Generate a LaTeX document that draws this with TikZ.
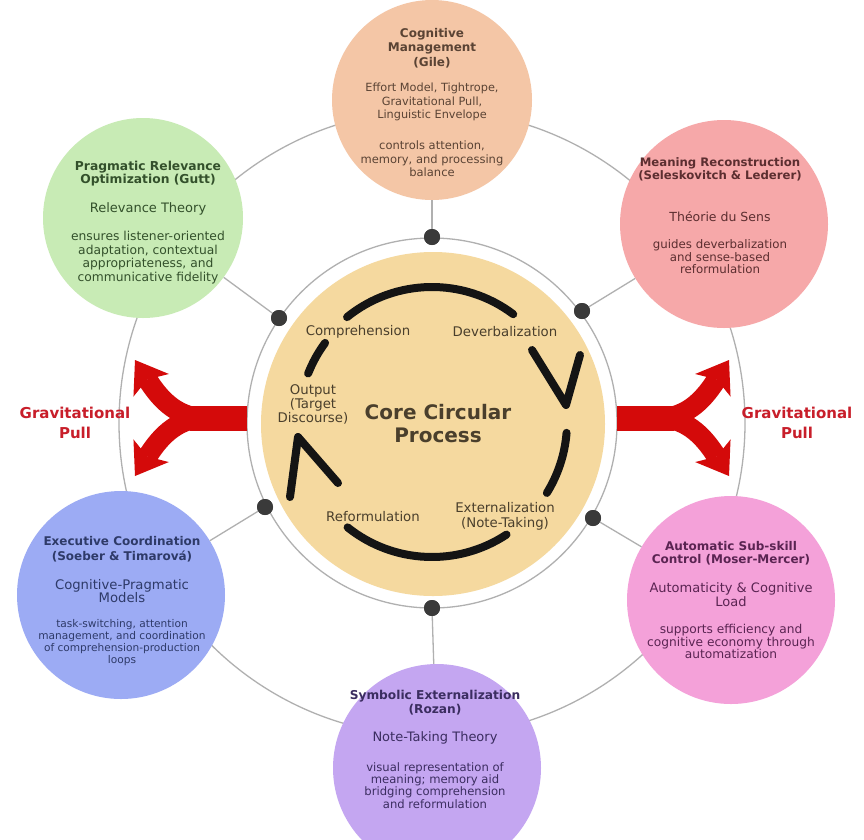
\documentclass[tikz,border=0pt]{standalone}
\usepackage{fontspec}
\setmainfont{DejaVu Sans}
\usetikzlibrary{arrows.meta,calc}
\definecolor{cPeach}{HTML}{F4C6A6}
\definecolor{cGreen}{HTML}{C8EBB5}
\definecolor{cSalmon}{HTML}{F6A8A9}
\definecolor{cBlue}{HTML}{9CABF4}
\definecolor{cPink}{HTML}{F4A1D9}
\definecolor{cPurple}{HTML}{C4A6F1}
\definecolor{cCore}{HTML}{F5D99F}
\definecolor{tPeach}{HTML}{5A4334}
\definecolor{tGreen}{HTML}{33502B}
\definecolor{tSalmon}{HTML}{5C2E30}
\definecolor{tBlue}{HTML}{2E3A68}
\definecolor{tPink}{HTML}{5A2452}
\definecolor{tPurple}{HTML}{3B2D60}
\definecolor{tCore}{HTML}{4A3F2C}
\definecolor{gline}{HTML}{B0B0B0}
\definecolor{dotc}{HTML}{3A3A3A}
\definecolor{pullred}{HTML}{D40A0A}
\definecolor{pulltxt}{HTML}{C81E2A}
\begin{document}
\begin{tikzpicture}[x=1pt,y=-1pt,
  bubble/.style={circle, minimum size=#1, inner sep=0pt, draw=none},
  ttl/.style n args={2}{align=center, inner sep=0pt, font=\fontsize{#1}{#2}\selectfont\bfseries},
  thy/.style n args={2}{align=center, inner sep=0pt, font=\fontsize{#1}{#2}\selectfont},
  dsc/.style n args={2}{align=center, inner sep=0pt, font=\fontsize{#1}{#2}\selectfont},
  ring/.style={draw=gline, line width=1.3pt},
  link/.style={draw=gline, line width=1.3pt},
  hub/.style={circle, fill=dotc, minimum size=16pt, inner sep=0pt},
  cyc/.style={draw=black!92, line width=8pt, line cap=round, line join=round},
  pullstem/.style={draw=pullred, line width=25pt},
  pullbranch/.style={draw=pullred, line width=20pt, -{Stealth[length=30pt,width=42pt,inset=7pt,line width=0pt]}},
  corelbl/.style={align=center, inner sep=0pt, text=tCore, font=\fontsize{13.3}{14.5}\selectfont},
  pulllbl/.style={align=center, inner sep=0pt, text=pulltxt, font=\fontsize{15}{20}\selectfont\bfseries}
]
\useasboundingbox (0,0) rectangle (864,839);
\fill[white] (0,0) rectangle (864,839);
\begin{scope}
\clip (0,0) rectangle (864,839);
\coordinate (cc) at (432,423);
% rings
\draw[ring] (cc) circle[radius=313];
\draw[ring] (cc) circle[radius=185];
% hubs (positions)
\node[hub] (hTop) at (432,237) {};
\node[hub] (hUL) at (279,318) {};
\node[hub] (hUR) at (582,311) {};
\node[hub] (hLL) at (265,507) {};
\node[hub] (hLR) at (593,518) {};
\node[hub] (hBot) at (432,608) {};
% bubbles
\node[bubble=200pt, fill=cPeach] (cog) at (432,100) {};
\node[bubble=200pt, fill=cGreen] (prag) at (143,218) {};
\node[bubble=208pt, fill=cSalmon] (mean) at (724,224) {};
\node[bubble=208pt, fill=cBlue] (exec) at (121,595) {};
\node[bubble=208pt, fill=cPink] (auto) at (731,600) {};
\node[bubble=208pt, fill=cPurple] (symb) at (437,768) {};
% connectors
\draw[link] (cog) -- (hTop);
\draw[link] (prag) -- (hUL);
\draw[link] (mean) -- (hUR);
\draw[link] (exec) -- (hLL);
\draw[link] (auto) -- (hLR);
\draw[link] (symb) -- (hBot);
% core
\node[bubble=344pt, fill=cCore] (core) at (433,424) {};
% gravitational pull arrows
\coordinate (lStemA) at (247,418);
\coordinate (lStemB) at (190,418);
\coordinate (lFork) at (205,418);
\coordinate (lUp) at (135,360);
\coordinate (lDn) at (135,476);
\draw[pullstem] (lStemA) -- (lStemB);
\draw[pullbranch] (lFork) .. controls (175,418) and (158,396) .. (lUp);
\draw[pullbranch] (lFork) .. controls (175,418) and (158,440) .. (lDn);
\coordinate (rStemA) at (617,418);
\coordinate (rStemB) at (674,418);
\coordinate (rFork) at (659,418);
\coordinate (rUp) at (729,360);
\coordinate (rDn) at (729,476);
\draw[pullstem] (rStemA) -- (rStemB);
\draw[pullbranch] (rFork) .. controls (689,418) and (706,396) .. (rUp);
\draw[pullbranch] (rFork) .. controls (689,418) and (706,440) .. (rDn);
% cycle
\coordinate (cyc) at (432,422);
\draw[cyc] ($(cyc)+(-129:135)$) arc[start angle=-129, end angle=-53, radius=135];
\draw[cyc] ($(cyc)+(-143.5:133)$) arc[start angle=-143.5, end angle=-158.6, radius=133];
\draw[cyc] ($(cyc)+(4.6:135)$) arc[start angle=4.6, end angle=31.7, radius=135];
\draw[cyc] ($(cyc)+(56.5:135)$) arc[start angle=56.5, end angle=128.7, radius=135];
\coordinate (rTip) at (566,405);
\coordinate (rBarbA) at (580,355);
\coordinate (rBarbB) at (532,350);
\draw[cyc] (rBarbA) -- (rTip) -- (rBarbB);
\coordinate (lTip) at (298,437);
\coordinate (lBarbA) at (290,497);
\coordinate (lBarbB) at (338,483);
\draw[cyc] (lBarbA) -- (lTip) -- (lBarbB);
% hubs drawn on top
\node[hub] at (hTop) {};
\node[hub] at (hUL) {};
\node[hub] at (hUR) {};
\node[hub] at (hLL) {};
\node[hub] at (hLR) {};
\node[hub] at (hBot) {};
% texts: top
\node[ttl={12}{14.5}, text=tPeach] (cogT) at (432,48) {Cognitive\\Management\\(Gile)};
\node[thy={11.3}{13.5}, text=tPeach] (cogH) at (432,102) {Effort Model, Tightrope,\\Gravitational Pull,\\Linguistic Envelope};
\node[dsc={11.5}{13.5}, text=tPeach] (cogD) at (432,159) {controls attention,\\memory, and processing\\balance};
% green
\node[ttl={12.3}{13.8}, text=tGreen] (pragT) at (148,173.5) {Pragmatic Relevance\\Optimization (Gutt)};
\node[thy={13}{14}, text=tGreen] (pragH) at (148,209) {Relevance Theory};
\node[dsc={12.3}{13.7}, text=tGreen] (pragD) at (148,257.5) {ensures listener-oriented\\adaptation, contextual\\appropriateness, and\\communicative fidelity};
% salmon
\node[ttl={11.7}{13}, text=tSalmon] (meanT) at (720,169.5) {Meaning Reconstruction\\(Seleskovitch \& Lederer)};
\node[thy={12.5}{14}, text=tSalmon] (meanH) at (720,217) {Théorie du Sens};
\node[dsc={11.8}{12.5}, text=tSalmon] (meanD) at (720,257) {guides deverbalization\\and sense-based\\reformulation};
% blue
\node[ttl={12}{15}, text=tBlue] (execT) at (122,549.5) {Executive Coordination\\(Soeber \& Timarová)};
\node[thy={13.2}{12.8}, text=tBlue] (execH) at (122,591) {Cognitive-Pragmatic\\Models};
\node[dsc={10.6}{12}, text=tBlue] (execD) at (122,643) {task-switching, attention\\management, and coordination\\of comprehension-production\\loops};
% pink
\node[ttl={12}{13}, text=tPink] (autoT) at (731,553) {Automatic Sub-skill\\Control (Moser-Mercer)};
\node[thy={13}{14.5}, text=tPink] (autoH) at (731,594.5) {Automaticity \& Cognitive\\Load};
\node[dsc={12.2}{12.7}, text=tPink] (autoD) at (731,641.5) {supports efficiency and\\cognitive economy through\\automatization};
% purple
\node[ttl={12.2}{14}, text=tPurple] (symbT) at (435,703) {Symbolic Externalization\\(Rozan)};
\node[thy={13}{14}, text=tPurple] (symbH) at (435,738) {Note-Taking Theory};
\node[dsc={11.6}{12.3}, text=tPurple] (symbD) at (435,785.5) {visual representation of\\meaning; memory aid\\bridging comprehension\\and reformulation};
% core labels
\node[corelbl] (lComp) at (358,332) {Comprehension};
\node[corelbl] (lDev) at (505,332) {Deverbalization};
\node[corelbl, font=\fontsize{13.3}{14}\selectfont] (lOut) at (313,404) {Output\\(Target\\Discourse)};
\node[corelbl, font=\fontsize{20}{23}\selectfont\bfseries] (lCore) at (438,423.5) {Core Circular\\Process};
\node[corelbl] (lRef) at (373,517) {Reformulation};
\node[corelbl, font=\fontsize{13.3}{15}\selectfont] (lExt) at (505,516.5) {Externalization\\(Note-Taking)};
% gravitational pull labels
\node[pulllbl] (gpL) at (75,423) {Gravitational\\Pull};
\node[pulllbl] (gpR) at (797,423) {Gravitational\\Pull};
\end{scope}
\end{tikzpicture}
\end{document}
